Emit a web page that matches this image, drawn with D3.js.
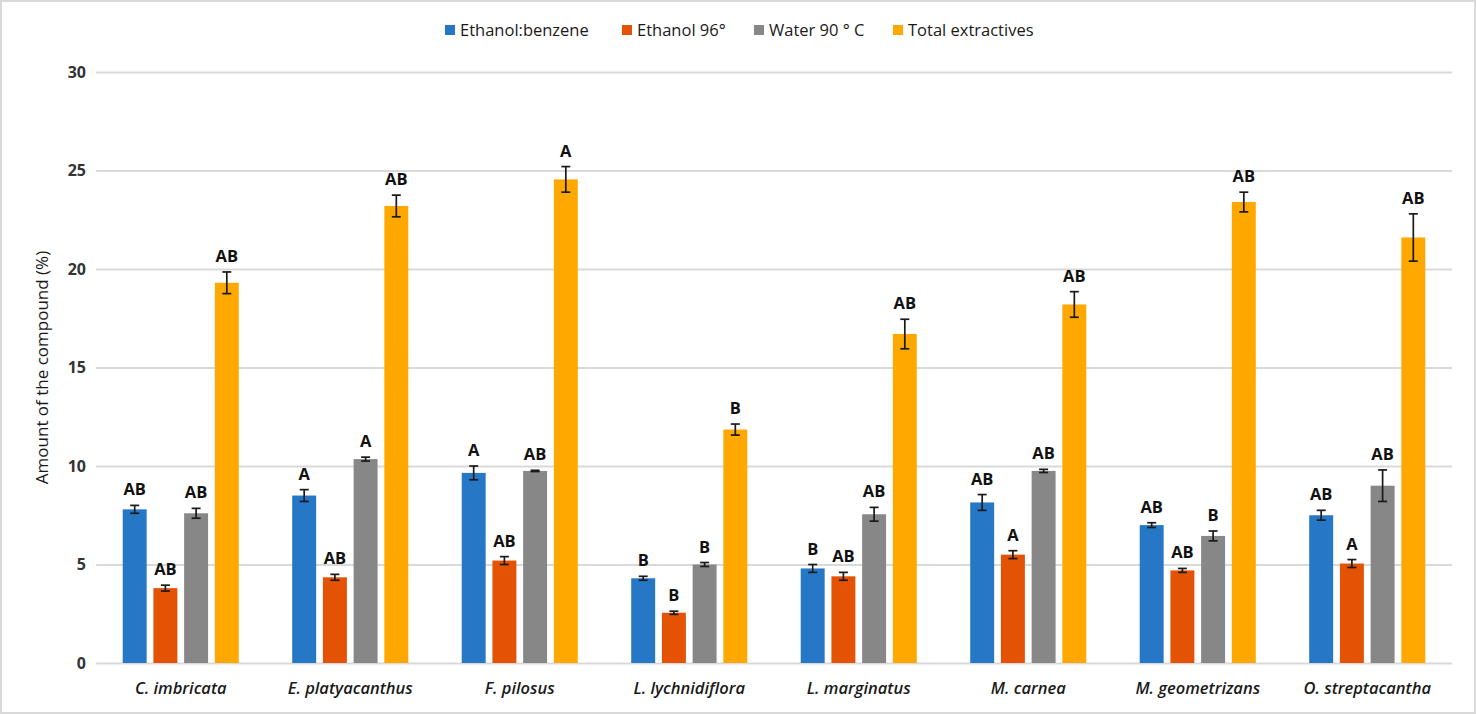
<!DOCTYPE html>
<html>
<head>
<meta charset="utf-8">
<script src="https://cdn.jsdelivr.net/npm/d3@7"></script>
<style>
    body { margin: 0; background: #ffffff; }
    svg { font-family: "Open Sans", "Noto Sans", sans-serif; }
    .grid line { stroke: #d9d9d9; stroke-width: 2; }
    .grid path { display: none; }
</style>
</head>
<body>
<svg id="chartSvg" width="1476" height="714"></svg>
<script>
// species on the x axis
let species = ['C. imbricata', 'E. platyacanthus', 'F. pilosus', 'L. lychnidiflora',
    'L. marginatus', 'M. carnea', 'M. geometrizans', 'O. streptacantha'];
let seriesNames = ['Ethanol:benzene', 'Ethanol 96°', 'Water 90 ° C', 'Total extractives'];
let seriesColours = ['#2677c6', '#e35205', '#878787', '#ffa800'];
let yTicks = [0, 5, 10, 15, 20, 25, 30];

// means
let ethanolBenzene = [7.8, 8.5, 9.65, 4.3, 4.8, 8.15, 7.0, 7.5];
let ethanol96 = [3.8, 4.35, 5.2, 2.55, 4.4, 5.5, 4.7, 5.05];
let water90 = [7.6, 10.35, 9.75, 5.0, 7.55, 9.75, 6.45, 9.0];
let totalExtractives = [19.3, 23.2, 24.55, 11.85, 16.7, 18.2, 23.4, 21.6];

// error bar half widths
let errEthanolBenzene = [0.2, 0.3, 0.35, 0.1, 0.2, 0.4, 0.12, 0.25];
let errEthanol96 = [0.15, 0.15, 0.2, 0.08, 0.2, 0.2, 0.1, 0.2];
let errWater90 = [0.25, 0.1, 0.03, 0.1, 0.35, 0.08, 0.25, 0.8];
let errTotal = [0.55, 0.55, 0.65, 0.28, 0.75, 0.65, 0.5, 1.2];

// significance letters
let letEthanolBenzene = ['AB', 'A', 'A', 'B', 'B', 'AB', 'AB', 'AB'];
let letEthanol96 = ['AB', 'AB', 'AB', 'B', 'AB', 'A', 'AB', 'A'];
let letWater90 = ['AB', 'A', 'AB', 'B', 'AB', 'AB', 'B', 'AB'];
let letTotal = ['AB', 'AB', 'A', 'B', 'AB', 'AB', 'AB', 'AB'];

let values = [ethanolBenzene, ethanol96, water90, totalExtractives];
let errors = [errEthanolBenzene, errEthanol96, errWater90, errTotal];
let letters = [letEthanolBenzene, letEthanol96, letWater90, letTotal];

let svg = d3.select('#chartSvg');
let plotLeft = 96, plotRight = 1452, plotTop = 72, plotBottom = 663;
let width = plotRight - plotLeft;
let height = plotBottom - plotTop;

// outer border
svg.append('rect')
    .attr('x', 1).attr('y', 1)
    .attr('width', 1474).attr('height', 712)
    .attr('fill', 'none')
    .attr('stroke', '#d9d9d9')
    .attr('stroke-width', 2);

let chart = svg.append('g')
    .attr('transform', `translate(${plotLeft}, ${plotTop})`);

const x0 = d3.scaleBand()
    .domain(species)
    .range([0, width])
    .padding(0);

const x1 = d3.scaleBand()
    .domain(d3.range(seriesNames.length))
    .range([0, x0.bandwidth()])
    .paddingInner(0.22)
    .paddingOuter(0.87);

const yScale = d3.scaleLinear()
    .domain([0, 30])
    .range([height, 0]);

//horizontal grid
chart.append('g')
    .attr('class', 'grid')
    .call(d3.axisLeft(yScale)
        .tickValues(yTicks)
        .tickSize(-width)
        .tickFormat(''));

// y tick labels
chart.append('g')
    .call(d3.axisLeft(yScale).tickValues(yTicks).tickSize(0).tickPadding(10))
    .call(g => g.select('.domain').remove())
    .selectAll('text')
    .attr('font-family', '"Open Sans", sans-serif')
    .attr('font-size', 16)
    .attr('font-weight', 'bold')
    .attr('fill', '#333333');

// x labels
chart.append('g')
    .attr('transform', `translate(0, ${height})`)
    .call(d3.axisBottom(x0).tickSize(0).tickPadding(19))
    .call(g => g.select('.domain').remove())
    .selectAll('text')
    .attr('font-family', '"Open Sans", sans-serif')
    .attr('font-size', 16.5)
    .attr('font-style', 'italic')
    .attr('font-weight', 600)
    .attr('fill', '#1a1a1a');

// bars, error bars and letters
for (let s = 0; s < seriesNames.length; s++) {
    for (let i = 0; i < species.length; i++) {
        let v = values[s][i];
        let e = errors[s][i];
        let bx = x0(species[i]) + x1(s);
        let cx = bx + x1.bandwidth() / 2;

        chart.append('rect')
            .attr('x', bx)
            .attr('y', yScale(v))
            .attr('width', x1.bandwidth())
            .attr('height', height - yScale(v))
            .attr('fill', seriesColours[s])
            .append('title')
                .text(seriesNames[s] + ': ' + v);

        let eg = chart.append('g')
            .attr('stroke', '#1a1a1a')
            .attr('stroke-width', 1.7);
        eg.append('line')
            .attr('x1', cx).attr('x2', cx)
            .attr('y1', yScale(v + e)).attr('y2', yScale(v - e));
        eg.selectAll('.cap')
            .data([v + e, v - e])
            .enter()
            .append('line')
            .attr('x1', cx - 4.5).attr('x2', cx + 4.5)
            .attr('y1', d => yScale(d)).attr('y2', d => yScale(d));

        chart.append('text')
            .attr('x', cx)
            .attr('y', yScale(v + e) - 10)
            .attr('text-anchor', 'middle')
            .attr('font-size', 16.5)
            .attr('font-weight', 'bold')
            .attr('fill', '#111111')
            .text(letters[s][i]);
    }
}

// y axis title
svg.append('text')
    .attr('transform', `translate(48, ${(plotTop + plotBottom) / 2}) rotate(-90)`)
    .attr('text-anchor', 'middle')
    .attr('font-size', 17)
    .attr('fill', '#1a1a1a')
    .text('Amount of the compound (%)');

// legend
let legendX = [445, 622, 754, 893];
let legend = svg.append('g');
for (let s = 0; s < seriesNames.length; s++) {
    legend.append('rect')
        .attr('x', legendX[s])
        .attr('y', 25)
        .attr('width', 10)
        .attr('height', 10)
        .attr('fill', seriesColours[s]);
    legend.append('text')
        .attr('x', legendX[s] + 15)
        .attr('y', 36)
        .attr('font-size', 16.5)
        .attr('fill', '#1a1a1a')
        .text(seriesNames[s]);
}
</script>
</body>
</html>
